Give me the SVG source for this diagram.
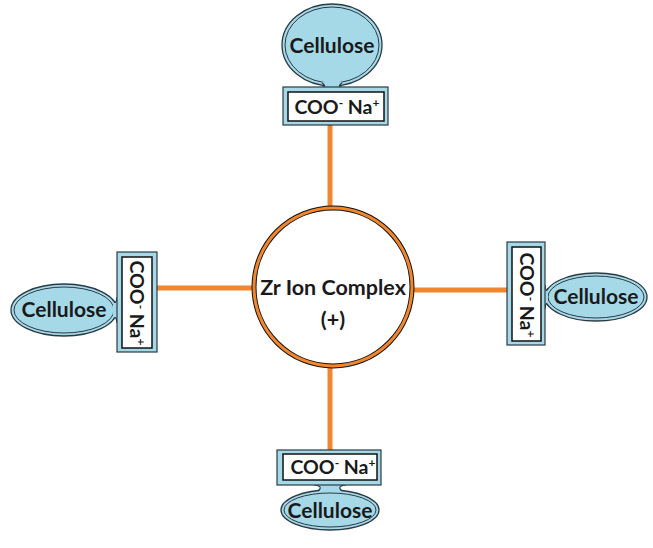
<svg xmlns="http://www.w3.org/2000/svg" width="653" height="548" viewBox="0 0 653 548">
<style>
.bg{fill:#ffffff}
.cel{fill:#a6d9e8;stroke:#2a3a44;stroke-width:1.3}
.celin{fill:none;stroke:#2a3a44;stroke-width:1}
.neck{fill:#a6d9e8;stroke:none}
.necks{fill:none;stroke:#2a3a44;stroke-width:1.2}
.ob{fill:#a6d9e8;stroke:#2a3a44;stroke-width:1.2}
.ib{fill:#ffffff;stroke:#111;stroke-width:1.5}
.t{font-family:Lato,"Open Sans",sans-serif;font-weight:bold;fill:#1a1a1a}
.tc{font-size:21px}
.tb{font-size:19.5px}
.sup{font-size:12px}
.con{stroke:#f0862e;stroke-width:5;fill:none}
</style>
<rect class="bg" x="0" y="0" width="653" height="548"/>
<g id="connectors">
<line class="con" x1="330" y1="125" x2="330" y2="210"/>
<line class="con" x1="330" y1="364" x2="330" y2="450"/>
<line class="con" x1="157" y1="288" x2="255" y2="288"/>
<line class="con" x1="411" y1="290" x2="507" y2="290"/>
</g>
<g id="zr">
<circle cx="333" cy="287" r="79" fill="#fff" stroke="#111" stroke-width="5"/>
<circle cx="333" cy="287" r="79" fill="none" stroke="#f0862e" stroke-width="3"/>
<text class="t" x="333" y="295" font-size="21.5" text-anchor="middle">Zr Ion Complex</text>
<text class="t" x="333" y="327" font-size="21.5" text-anchor="middle">(+)</text>
</g>
<g id="top">
<ellipse class="cel" cx="332" cy="45" rx="50" ry="41"/>
<ellipse class="celin" cx="332" cy="45" rx="47" ry="38"/>
<path class="neck" d="M322 82 Q328 87 322 88 L342 88 Q336 87 342 82 Z"/>
<path class="necks" d="M322 83 Q328 87 320 88 M342 83 Q336 87 344 88"/>
<rect class="ob" x="283" y="87" width="105" height="38"/>
<rect class="ib" x="288" y="92" width="96" height="29"/>
<text class="t tc" x="332" y="53" text-anchor="middle">Cellulose</text>
<text class="t tb" x="337" y="114" text-anchor="middle">COO<tspan class="sup" dy="-7">-</tspan><tspan dy="7"> Na</tspan><tspan class="sup" dy="-7">+</tspan></text>
</g>
<g id="bottom">
<ellipse class="cel" cx="330" cy="510" rx="49" ry="20"/>
<ellipse class="celin" cx="330" cy="510" rx="46" ry="17"/>
<path class="neck" d="M318 492 Q324 486 316 485 L344 485 Q336 486 342 492 Z"/>
<path class="necks" d="M318 491 Q324 486 314 485 M342 491 Q336 486 346 485"/>
<rect class="ob" x="277" y="450" width="104" height="35"/>
<rect class="ib" x="283" y="454" width="94" height="26"/>
<text class="t tc" x="330" y="518" text-anchor="middle">Cellulose</text>
<text class="t tb" x="333" y="474" text-anchor="middle">COO<tspan class="sup" dy="-7">-</tspan><tspan dy="7"> Na</tspan><tspan class="sup" dy="-7">+</tspan></text>
</g>
<g id="left">
<ellipse class="cel" cx="64" cy="310" rx="53" ry="26"/>
<ellipse class="celin" cx="64" cy="310" rx="50" ry="23"/>
<path class="neck" d="M113 300 Q116 306 117 298 L117 322 Q116 314 113 320 Z"/>
<path class="necks" d="M113 300 Q116 306 117 297 M113 320 Q116 314 117 323"/>
<rect class="ob" x="117" y="252" width="40" height="100"/>
<rect class="ib" x="122" y="257" width="30" height="91"/>
<text class="t tc" x="64" y="317" text-anchor="middle">Cellulose</text>
<text class="t tb" transform="translate(130 303) rotate(90)" x="0" y="0" text-anchor="middle">COO<tspan class="sup" dy="-7">-</tspan><tspan dy="7"> Na</tspan><tspan class="sup" dy="-7">+</tspan></text>
</g>
<g id="right">
<ellipse class="cel" cx="596" cy="297" rx="51" ry="24"/>
<ellipse class="celin" cx="596" cy="297" rx="48" ry="21"/>
<path class="neck" d="M548 288 Q546 294 545 286 L545 308 Q546 300 548 306 Z"/>
<path class="necks" d="M548 288 Q546 294 545 285 M548 306 Q546 300 545 309"/>
<rect class="ob" x="507" y="242" width="38" height="103"/>
<rect class="ib" x="512" y="247" width="29" height="94"/>
<text class="t tc" x="596" y="304" text-anchor="middle">Cellulose</text>
<text class="t tb" transform="translate(520 295) rotate(90)" x="0" y="0" text-anchor="middle">COO<tspan class="sup" dy="-7">-</tspan><tspan dy="7"> Na</tspan><tspan class="sup" dy="-7">+</tspan></text>
</g>
</svg>
